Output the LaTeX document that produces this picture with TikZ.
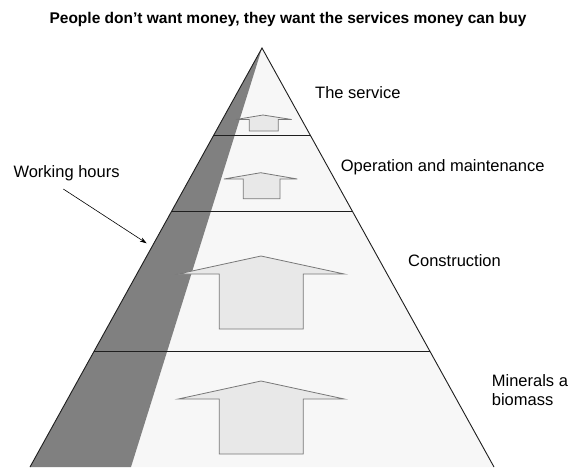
\documentclass[tikz,border=0pt]{standalone}
\usepackage{fontspec}
\setmainfont{Liberation Sans}
\usetikzlibrary{arrows.meta}
\definecolor{pyrfill}{RGB}{247,247,247}
\definecolor{bandfill}{RGB}{128,128,128}
\definecolor{arrfill}{RGB}{232,232,232}
\definecolor{arrline}{RGB}{120,120,120}
\definecolor{edge}{RGB}{30,30,30}
\tikzset{
  lbl/.style={anchor=base west, inner sep=0pt, text=black, font=\fontsize{16.5}{19.6}\selectfont},
  ttl/.style={anchor=base, inner sep=0pt, text=black, font=\fontsize{15.5}{18}\selectfont\bfseries},
  pyredge/.style={draw=edge, line width=0.9pt},
  upbox/.style={fill=arrfill, draw=arrline, line width=0.8pt, line join=miter},
  pointer/.style={draw=black, line width=0.6pt, -{Stealth[length=7pt,width=4.5pt]}}
}
\begin{document}
\begin{tikzpicture}[x=1pt,y=-1pt]
\useasboundingbox (0,0) rectangle (569,467);
\fill[white] (0,0) rectangle (569,467);
% pyramid
\coordinate (apex) at (262,48);
\coordinate (bl) at (30,467);
\coordinate (br) at (494,467);
\coordinate (bandbot) at (131,467);
\fill[pyrfill] (apex) -- (bl) -- (br) -- cycle;
\fill[bandfill] (apex) -- (bl) -- (bandbot) -- cycle;
\draw[pyredge] (bl) -- (apex) -- (br);
% level lines
\draw[pyredge] (213.8,135) -- (310.2,135);
\draw[pyredge] (171.7,211) -- (352.3,211);
\draw[pyredge] (94.2,351) -- (429.8,351);
% up arrows
\draw[upbox] (236,119.5) -- (263,115) -- (291.7,119.5) -- (278.3,119.5) -- (278.3,131) -- (249.3,131) -- (249.3,119.5) -- cycle;
\draw[upbox] (224,179) -- (260.7,172.7) -- (297.3,179) -- (280,179) -- (280,198.7) -- (243.3,198.7) -- (243.3,179) -- cycle;
\draw[upbox] (178.3,274) -- (261,256) -- (344.3,274) -- (303.3,274) -- (303.3,329) -- (219.3,329) -- (219.3,274) -- cycle;
\draw[upbox] (178.3,399) -- (261,381) -- (344.3,399) -- (303.3,399) -- (303.3,454) -- (219.3,454) -- (219.3,399) -- cycle;
% texts
\node[ttl] (title) at (288,23.5) {People don’t want money, they want the services money can buy};
\node[lbl] (service) at (315,98.3) {The service};
\node[lbl] (om) at (340.7,171) {Operation and maintenance};
\node[lbl] (constr) at (408,266) {Construction};
\node[lbl, align=left] (minerals) at (491.7,405.7) {Minerals a\\biomass};
\node[lbl] (work) at (13.3,177) {Working hours};
\coordinate (wstart) at (63.3,189);
\coordinate (wend) at (146.7,243.3);
\draw[pointer] (wstart) -- (wend);
\end{tikzpicture}
\end{document}
